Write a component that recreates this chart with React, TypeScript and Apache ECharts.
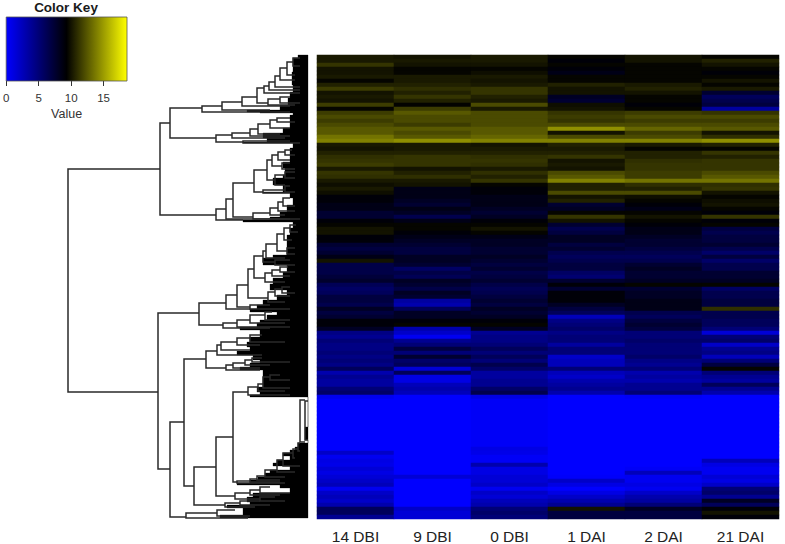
import React, { useEffect, useRef } from "react";
import * as echarts from "echarts";

const sampleLabels = ["14 DBI", "9 DBI", "0 DBI", "1 DAI", "2 DAI", "21 DAI"];

// expression per gene-cluster row, read top to bottom
const dbi14 = [10.2,10.2,11.2,10,10,10.2,9.5,10.5,11.5,10,
  10.2,10,11.5,9.5,11.5,12,11.5,12,12.5,12.5,
  13.5,14,10.2,10,10.5,11,11.2,11.5,10.2,11.2,
  11,10.2,9.8,10.2,9.8,9,9,8.5,8.5,7.5,
  7.5,9,9.5,10,10,9,9,7.5,7,7.5,
  8.5,10,6.7,6.7,6.7,7.2,7.7,6.2,5.7,6,
  7,7,6.5,8,7,7.5,9,9,8,4.5,
  4,5,4.5,4.5,5,4.5,5,4.5,6,3,
  4,3.5,3.5,5,5.5,0.5,0,0,0,0,
  0,0,0,0,0,0,0,0,0,2,
  0.5,1,0.8,1.5,1,1.5,2,2.5,0.5,2,
  2.5,2,3,6,6,4];
const dbi9 = [10,10.2,10,9.5,9.5,10.2,10.2,10.5,11,10.5,
  11.2,10.5,9.4,11.5,12.5,12,12,11.5,12.5,12,
  12.5,14.5,10.2,10.2,10.5,11.2,11.2,11.2,10,10.5,
  11,10.2,10,8.5,8.5,8.5,8,7.5,8.5,8,
  6.5,8.5,9.5,9.5,9,8.5,8,7.5,7,7,
  8,8,7.5,5.7,6.7,6.2,8,7.5,6.7,8,
  7.5,3.5,3,6,8,8,9,9.5,3,2,
  0.5,4,5,7,5,7.5,5.5,6,1.5,6,
  1,1,2.5,3,2.5,0,0,0,0,0,
  0,0,0,0,0,0,0,0,0,0,
  0,0,0,0,0,1.5,0,0,0,0,
  0,0,0,2,1.5,1.5];
const dbi0 = [10.2,10.2,10,9.5,9.8,10.2,10,10.2,11.2,11.2,
  10.5,10.2,12,10.2,12,12,12,12,12.5,12.5,
  13,14,10,10.2,10.5,11,11.2,11,10.2,11,
  10.5,11.2,9.5,9,9,8.5,8.5,8.5,8,7.5,
  8,9,9.5,10,9.5,8.5,8,8,7.5,7.5,
  8,7.5,7,7.5,6.7,7,7.5,6.7,6.2,6.5,
  7,7.5,7,8,7.5,8,9,9.5,8,4,
  4.5,4.5,5,6,5,6,5,6.5,5.5,3.5,
  3.5,4,4,5.5,6.5,1,0.3,0.3,0.3,0.3,
  0.3,0.3,0.3,0.3,0.3,0.3,0.3,0.3,1,0.8,
  0.3,0.3,3,1,1,1.5,1.5,2,0.5,2,
  1.5,2.5,3,5,5.5,5];
const dai1 = [9.5,9,9.5,9,8.5,9.5,9.5,10.5,10,10,
  8,7.5,9.8,10,11.2,11.5,11.2,12,14.5,10,
  12,14,10.5,10.2,10.5,11.2,10,10.2,10,12,
  12.5,14,10.5,10.5,12,10,10.5,7.5,8,9.5,
  11.2,10,7.5,6.5,7,8,8,7,7.5,6.5,
  6,6.5,7,7,5.7,5.2,7.5,9,7.5,9,
  9,9,8,7,6,2.5,4.5,5,5.5,4.5,
  5,5,3.5,5,5,2,2.5,2.5,5,2.5,
  2,3,3.5,4,3,0,0,0,0,0,
  0,0,0,0,0,0,0,0,0,0,
  0,0,0,0,0,0.2,2,1,0,1,
  2,3,4,10,7,7];
const dai2 = [10,10,9.5,9.5,9.5,9.5,9.5,10.2,10.5,10,
  9.5,9.5,9,9.5,11.5,12,11.5,12,13,11.5,
  12,14,10.2,9.5,10.5,10.5,11,11.2,11.2,11.5,
  11.5,13.5,11,10.5,12,9.8,9.5,9,8.5,9.5,
  10,9.5,9,8.5,8.5,8,7.5,7.5,7,6.5,
  6,6.5,7.5,8,7.5,7.5,8,9.5,7.5,8,
  8,8.5,8.5,8.5,6.5,6,7,7.5,7,5,
  5,5.5,5,5,5,5.5,4.5,4,5,3,
  3.5,3,4,4,5,0.3,0,0,0,0,
  0,0,0,0,0,0,0,0,0,0,
  0,0,0,0.3,2.5,0.5,0.5,1,0.5,2,
  3,3.5,5,8,7,7];
const dai21 = [9.5,10.5,10,9.5,9,9.5,10,9.5,10.2,7.5,
  6,6.5,7,3.5,11.2,12,11.5,12,12.5,10,
  11,14.5,10.5,9.5,11.2,10.5,11.2,11.2,11.2,12,
  12.5,13.5,11,11.2,10,9.5,9.8,10,9.5,9,
  11.2,9,9.5,7,6.5,7,7,7.5,6.5,5.5,
  7,5.5,6.5,6.5,7.5,7.5,8,9.5,5.7,6.5,
  6.5,7,7,11,6.5,6.5,6,6,5,1.5,
  5,5.5,2,4,4.5,2.5,5,7,9.5,5,
  4,3.5,6,4,3,0,0,0,0,0,
  0,0,0,0,0,0,0,0,0,0,
  0,2.5,1,0.5,0.5,1.5,1,2,5,5.5,
  4,8,6,9,10,9];
const sampleColumns = [dbi14, dbi9, dbi0, dai1, dai2, dai21];

// dendrogram merges: [merge height, top leaf position, top child height, bottom leaf position, bottom child height]
const dendroMerges = [
  [240,114,148,337,150],[148,68,138,160,92],[138,53,106,83,92],[106,51,86,57,18],[86,47,66,55,38],
  [66,42,51,51,18],[51,33,44,48,40],[44,31,39,38,8],[39,27,33,35,8],[33,21,28,32,8],[28,13,21,25,13],
  [21,7,15,20,13],[15,3,8,11,8],[40,44,28,50,13],[28,42,18,48,8],[92,80,76,87,65],[76,78,58,83,23],
  [58,74,50,81,18],[50,69,38,79,28],[38,65,31,73,18],[31,63,18,67,13],[65,86,18,88,8],
  [92,154,82,165,65],[82,144,75,164,18],[75,128,54,162,55],[54,115,41,137,45],[41,105,36,125,33],
  [36,100,30,111,26],[30,97,23,105,18],[23,95,16,100,13],[26,108,18,114,13],[33,120,23,130,23],
  [23,117,13,123,13],[45,135,23,138,18],[23,131,18,137,13],[55,158,38,164,8],[38,153,30,160,23],
  [30,147,25,156,13],[25,143,18,151,13],
  [150,258,109,414,138],[109,248,82,270,85],[82,240,71,254,58],[71,230,60,252,58],[60,214,54,243,40],
  [54,201,45,223,43],[45,196,42,207,33],[42,189,31,203,23],[31,179,24,196,21],[24,173,18,185,16],
  [18,170,12,177,10],[21,193,13,199,13],[33,205,18,210,13],[43,218,36,227,23],[36,215,28,221,18],
  [28,212,20,217,13],[40,237,33,247,23],[33,234,26,241,18],[26,232,18,238,13],[58,250,38,254,18],
  [85,268,71,273,38],[71,265,58,272,18],[58,260,43,268,23],[43,257,36,265,18],
  [138,367,124,462,122],[124,304,102,431,114],[102,296,91,313,82],[91,290,87,300,46],[87,287,71,295,58],
  [71,283,58,290,48],[58,280,46,287,23],[82,310,75,315,48],[75,308,63,313,48],[63,305,56,310,38],
  [56,303,46,307,18],[114,412,92,450,83],[92,382,75,441,73],[75,337,60,427,71],[60,332,50,340,18],
  [50,329,45,336,23],[45,322,38,333,18],[38,320,28,325,18],[71,426,58,428,23],[58,424,51,427,28],
  [51,421,43,425,28],[43,415,31,422,23],[31,405,25,417,13],[25,398,15,411,8],[15,394,10,403,13],
  [10,388,8,396,8],[8,345,3,387,3],[3,346,0,385,0],[73,438,58,444,48],[58,435,48,440,28],
  [48,432,38,438,18],[48,442,33,446,23],[83,448,68,452,53],[68,446,48,450,38],[122,458,91,463,60],
  [91,455,73,461,58],
];

// densely packed leaf region: [leaf position where the band starts, height reached by the band]
const leafBands = [
  [0,10],[3,15],[10,15],[17,16],[23,16],[30,15],[37,18],[43,20],[50,28],[55,61],[57,48],[58,15],[60,18],
  [67,18],[73,25],[78,45],[83,41],[87,65],[88,15],[93,18],[100,18],[107,25],[113,23],[120,25],[123,35],
  [130,25],[137,45],[138,18],[143,15],[150,21],[157,28],[162,38],[165,65],[167,15],[173,18],[180,21],
  [187,21],[193,21],[200,35],[203,45],[210,21],[217,25],[223,35],[229,38],[235,21],[240,31],[245,45],
  [250,51],[254,58],[257,31],[260,41],[265,48],[268,51],[272,68],[275,48],[282,58],[287,61],[292,58],
  [296,71],[300,55],[305,48],[308,58],[312,68],[315,45],[320,45],[325,45],[332,51],[337,48],[340,58],
  [342,0],[372,3],[385,0],[388,10],[392,13],[395,18],[398,25],[401,18],[405,31],[408,35],[411,18],[415,38],
  [418,43],[422,50],[425,58],[428,71],[430,28],[433,18],[438,55],[442,61],[447,58],[450,81],[453,65],
  [457,65],[460,88],[463,0],
];

const keyRange = [0, 18.6];
const keyTicks = [0, 5, 10, 15];
const keyColors = ["#0000ff", "#000000", "#ffff00"];

export default function App() {
  const ref = useRef<HTMLDivElement>(null);

  useEffect(() => {
    document.body.style.margin = "0";
    const chart = echarts.init(ref.current!, null, { renderer: "svg" });
    const rowCount = dbi14.length;
    const rows = Array.from({ length: rowCount }, (_, i) => String(i));
    const heat: number[][] = [];
    sampleColumns.forEach((col, x) => col.forEach((v, y) => heat.push([x, y, v])));
    const bands = leafBands.slice(0, -1).map((b, i) => [b[0], leafBands[i + 1][0], b[1]]);

    chart.setOption({
      animation: false,
      backgroundColor: "#ffffff",
      textStyle: { fontFamily: "Liberation Sans" },
      title: {
        text: "Color Key",
        left: 66,
        top: 0,
        padding: 0,
        textAlign: "center",
        textStyle: { fontSize: 13.5, fontWeight: "bold", color: "#1a1a1a", fontFamily: "Liberation Sans", lineHeight: 15 },
      },
      grid: [
        { left: 317, top: 55, width: 462, height: 464 },
        { left: 68, top: 55, width: 240, height: 463 },
        { left: 5.5, top: 17, width: 121.5, height: 64 },
      ],
      xAxis: [
        {
          gridIndex: 0, type: "category", data: sampleLabels,
          axisLine: { show: false }, axisTick: { show: false }, splitLine: { show: false },
          axisLabel: { fontSize: 15.5, color: "#222", margin: 9, fontFamily: "Liberation Sans" },
        },
        { gridIndex: 1, type: "value", min: 0, max: 240, inverse: true, show: false },
        {
          gridIndex: 2, type: "value", min: keyRange[0], max: keyRange[1], interval: 5,
          splitLine: { show: false },
          axisLine: { show: false },
          axisTick: { show: true, length: 5, customValues: keyTicks, lineStyle: { color: "#333", width: 1 } },
          axisLabel: { fontSize: 11.5, color: "#333", margin: 11, fontFamily: "Liberation Sans",
            customValues: keyTicks },
          name: "Value", nameLocation: "middle", nameGap: 26,
          nameTextStyle: { fontSize: 12.5, color: "#333", fontFamily: "Liberation Sans" },
        },
      ],
      yAxis: [
        { gridIndex: 0, type: "category", data: rows, inverse: true, show: false },
        { gridIndex: 1, type: "value", min: 0, max: 463, inverse: true, show: false },
        { gridIndex: 2, type: "value", min: 0, max: 1, show: false },
      ],
      visualMap: {
        show: false, seriesIndex: 0, dimension: 2,
        min: keyRange[0], max: keyRange[1],
        inRange: { color: keyColors },
      },
      series: [
        {
          type: "heatmap", xAxisIndex: 0, yAxisIndex: 0, data: heat,
          itemStyle: { borderWidth: 0 }, emphasis: { disabled: true }, progressive: 0,
        },
        {
          type: "custom", xAxisIndex: 1, yAxisIndex: 1, data: bands, silent: true,
          encode: { x: 2, y: [0, 1] },
          renderItem: (_: any, api: any) => {
            const a = api.coord([api.value(2), api.value(0)]);
            const b = api.coord([0, api.value(1)]);
            return { type: "rect", shape: { x: a[0], y: a[1], width: b[0] - a[0], height: b[1] - a[1] },
              style: { fill: "#000000", stroke: "#000000", lineWidth: 0.3 } };
          },
        },
        {
          type: "custom", xAxisIndex: 1, yAxisIndex: 1, data: dendroMerges, silent: true,
          encode: { x: [0, 2, 4], y: [1, 3] },
          renderItem: (_: any, api: any) => {
            const pts = [
              api.coord([api.value(2), api.value(1)]),
              api.coord([api.value(0), api.value(1)]),
              api.coord([api.value(0), api.value(3)]),
              api.coord([api.value(4), api.value(3)]),
            ];
            return { type: "polyline", shape: { points: pts },
              style: { stroke: "#2a2a2a", lineWidth: 1.5, fill: "none" } };
          },
        },
        {
          type: "custom", xAxisIndex: 2, yAxisIndex: 2, data: [[keyRange[0], keyRange[1]]], silent: true,
          encode: { x: [0, 1] },
          renderItem: (_: any, api: any) => {
            const a = api.coord([api.value(0), 1]);
            const b = api.coord([api.value(1), 0]);
            return { type: "rect", shape: { x: a[0], y: a[1], width: b[0] - a[0], height: b[1] - a[1] },
              style: {
                fill: new echarts.graphic.LinearGradient(0, 0, 1, 0, [
                  { offset: 0, color: keyColors[0] },
                  { offset: 0.5, color: keyColors[1] },
                  { offset: 1, color: keyColors[2] },
                ]),
                stroke: "#555", lineWidth: 0.8,
              } };
          },
        },
      ],
    });
    return () => chart.dispose();
  }, []);

  return <div ref={ref} style={{ width: 785, height: 544 }} />;
}
